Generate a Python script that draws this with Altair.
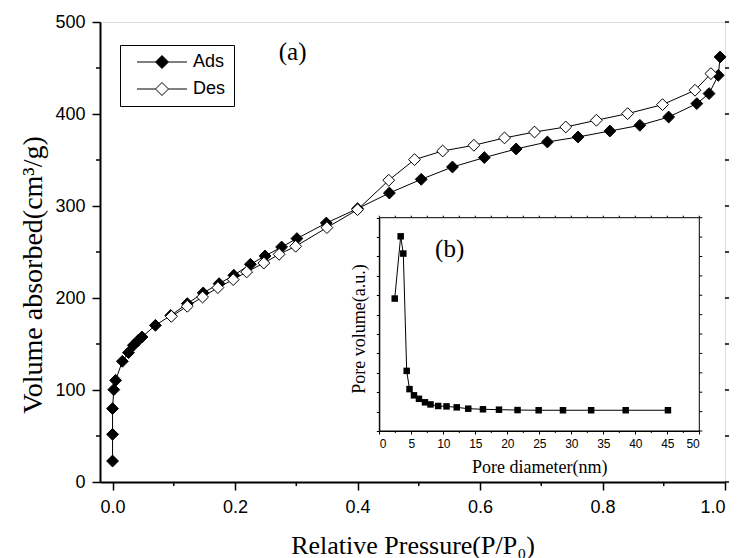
import altair as alt
import pandas as pd

# N2 sorption isotherm: relative pressure vs adsorbed volume
ads_p = [0.000, 0.000, 0.000, 0.002, 0.005, 0.016, 0.026, 0.034, 0.041, 0.048,
         0.070, 0.095, 0.122, 0.148, 0.174, 0.198, 0.225, 0.249, 0.276, 0.301,
         0.349, 0.400, 0.452, 0.504, 0.555, 0.607, 0.659, 0.710, 0.760, 0.812,
         0.861, 0.908, 0.954, 0.974, 0.989, 0.992]
ads_v = [22.8, 51.8, 79.8, 100.4, 110.5, 131.2, 140.6, 148.6, 153.3, 157.6,
         170.3, 181.0, 193.9, 205.5, 215.6, 224.7, 236.6, 245.7, 255.4, 264.6,
         281.5, 297.1, 314.1, 329.0, 342.4, 352.6, 362.0, 369.6, 375.0, 381.5,
         387.7, 396.7, 411.3, 422.2, 442.0, 462.0]
des_p = [0.096, 0.122, 0.147, 0.172, 0.197, 0.219, 0.247, 0.272, 0.299, 0.350,
         0.400, 0.451, 0.493, 0.539, 0.590, 0.640, 0.689, 0.740, 0.790, 0.841,
         0.898, 0.951, 0.977]
des_v = [180.0, 191.0, 201.0, 211.3, 220.0, 228.3, 238.0, 247.5, 256.2, 276.5,
         296.0, 328.0, 350.4, 359.8, 366.0, 374.0, 380.4, 385.9, 393.2, 400.4,
         410.2, 425.8, 443.9]

# Pore size distribution (inset)
pore_d = [2.41, 3.34, 3.75, 4.28, 4.72, 5.42, 6.2, 7.14, 8.0, 9.2, 10.5, 12.1,
          13.9, 16.2, 18.7, 21.6, 24.9, 28.7, 33.1, 38.5, 45.1]
pore_v = [6.83, 10.04, 9.15, 3.10, 2.16, 1.84, 1.66, 1.48, 1.37, 1.29, 1.27, 1.22,
          1.15, 1.12, 1.10, 1.08, 1.07, 1.07, 1.07, 1.07, 1.07]

branches = ["Ads", "Des"]

# tick positions
x_major = [0.0, 0.2, 0.4, 0.6, 0.8, 1.0]
x_minor = [0.1, 0.3, 0.5, 0.7, 0.9]
y_major = [0, 100, 200, 300, 400, 500]
y_minor = [50, 150, 250, 350, 450]
ix_major = [0, 5, 10, 15, 20, 25, 30, 35, 40, 45, 50]
ix_minor = [2.5, 7.5, 12.5, 17.5, 22.5, 27.5, 32.5, 37.5, 42.5, 47.5]
iy_ticks = list(range(12))

W, H = 625, 460
SANS = "Liberation Sans"
SERIF = "Liberation Serif"

iso = pd.DataFrame({
    "p": ads_p + des_p,
    "v": ads_v + des_v,
    "branch": [branches[0]] * len(ads_p) + [branches[1]] * len(des_p),
})
psd = pd.DataFrame({"d": pore_d, "pv": pore_v})

# ---------- main isotherm ----------
xs = alt.Scale(domain=[-0.0205, 1.0], nice=False, zero=False)
ys = alt.Scale(domain=[0, 500], nice=False)

x_axis = alt.Axis(
    orient="bottom", values=x_major, format=".1f", tickSize=8,
    labelFont=SANS, labelFontSize=18, labelColor="black", labelPadding=8.5,
    domainColor="black", domainWidth=2, tickColor="black", tickWidth=1.5,
    grid=False, title="Relative Pressure(P/P\u2080)", titleFont=SERIF,
    titleFontSize=26, titleFontWeight="normal", titleColor="black",
    titleX=W / 2, titleY=71, titleAlign="center", titleBaseline="alphabetic",
)
y_axis = alt.Axis(
    orient="left", values=y_major, tickSize=8,
    labelFont=SANS, labelFontSize=18, labelColor="black", labelPadding=7,
    domainColor="black", domainWidth=2, tickColor="black", tickWidth=1.5,
    grid=False, title="Volume absorbed(cm\u00b3/g)", titleFont=SERIF,
    titleFontSize=28, titleFontWeight="normal", titleColor="black",
    titleAngle=270, titleX=-59, titleY=252.5, titleAlign="center",
    titleBaseline="alphabetic",
)

lines = alt.Chart(iso).mark_line(color="black", strokeWidth=1).encode(
    x=alt.X("p:Q", scale=xs, axis=x_axis),
    y=alt.Y("v:Q", scale=ys, axis=y_axis),
    detail="branch:N",
    order="p:Q",
)

legend_symbol = "M-3.85,0L-1,0M-1,0L0,-1L1,0L0,1ZM1,0L3.85,0"
points = alt.Chart(iso).mark_point(
    shape="diamond", size=140, filled=True, stroke="black", strokeWidth=1, opacity=1
).encode(
    x=alt.X("p:Q", scale=xs),
    y=alt.Y("v:Q", scale=ys),
    fill=alt.Fill(
        "branch:N",
        scale=alt.Scale(domain=branches, range=["black", "white"]),
        legend=alt.Legend(
            orient="none", legendX=20, legendY=23, title=None,
            symbolType=legend_symbol, symbolSize=169, symbolStrokeColor="black",
            symbolStrokeWidth=1, symbolOffset=25, labelOffset=22,
            labelFont=SANS, labelFontSize=18, labelColor="black",
            padding=8, rowPadding=9, strokeColor="black", fillColor="white",
        ),
    ),
)

tag_a = alt.Chart(pd.DataFrame({"p": [0.294], "v": [458.7], "t": ["(a)"]})).mark_text(
    font=SERIF, fontSize=25, color="black", align="center", baseline="alphabetic"
).encode(x=alt.X("p:Q", scale=xs), y=alt.Y("v:Q", scale=ys), text="t:N")

# minor ticks on the bottom and left edges, plain ticks on the right edge
xminor_rules = alt.Chart(pd.DataFrame({"p": x_minor})).mark_rule(
    color="black", strokeWidth=1.5
).encode(x=alt.X("p:Q", scale=xs), y=alt.value(H), y2=alt.value(H + 4))
yminor_rules = alt.Chart(pd.DataFrame({"v": y_minor})).mark_rule(
    color="black", strokeWidth=1.5
).encode(y=alt.Y("v:Q", scale=ys), x=alt.value(-4), x2=alt.value(0))
yright_rules = alt.Chart(pd.DataFrame({"v": sorted(y_major + y_minor)})).mark_rule(
    color="black", strokeWidth=1.5
).encode(y=alt.Y("v:Q", scale=ys), x=alt.value(W), x2=alt.value(W + 4))

main = alt.layer(lines, xminor_rules, yminor_rules, yright_rules, points, tag_a)

# ---------- inset: pore size distribution ----------
IL, IR, IB, IT = 279.3, 599.3, 409.0, 195.7
ixs = alt.Scale(domain=[0, 50], range=[IL, IR], nice=False, zero=False)
iys = alt.Scale(domain=[0, 11], range=[IB, IT], nice=False, zero=False)

frame = alt.Chart(pd.DataFrame({"d": [0], "d2": [50], "pv": [0], "pv2": [11]})).mark_rect(
    fill="white", stroke="black", strokeWidth=1
).encode(
    x=alt.X("d:Q", scale=ixs), x2="d2:Q",
    y=alt.Y("pv:Q", scale=iys), y2="pv2:Q",
)

ix_axis = alt.Axis(
    orient="bottom", offset=IB - H, values=ix_major, format="d", tickSize=3,
    labelFont=SANS, labelFontSize=12, labelColor="black", labelPadding=4.5,
    domainColor="black", domainWidth=1, tickColor="black", tickWidth=1,
    grid=False, title="Pore diameter(nm)", titleFont=SERIF, titleFontSize=18,
    titleFontWeight="normal", titleColor="black", titleX=(IL + IR) / 2, titleY=41.5,
    titleAlign="center", titleBaseline="alphabetic", zindex=2,
)
iy_axis = alt.Axis(
    orient="left", offset=-IL, values=iy_ticks, labels=False,
    tickSize=3, domainColor="black", domainWidth=1, tickColor="black",
    tickWidth=1, grid=False, title="Pore volume(a.u.)", titleFont=SERIF,
    titleFontSize=18, titleFontWeight="normal", titleColor="black",
    titleAngle=270, titleX=-15, titleY=306.5, titleAlign="center",
    titleBaseline="alphabetic", zindex=2,
)

psd_line = alt.Chart(psd).mark_line(color="black", strokeWidth=1).encode(
    x=alt.X("d:Q", scale=ixs, axis=ix_axis),
    y=alt.Y("pv:Q", scale=iys, axis=iy_axis),
    order="d:Q",
)
psd_pts = alt.Chart(psd).mark_square(size=42, color="black", opacity=1).encode(
    x=alt.X("d:Q", scale=ixs),
    y=alt.Y("pv:Q", scale=iys),
)
tag_b = alt.Chart(pd.DataFrame({"d": [11.0], "pv": [8.96], "t": ["(b)"]})).mark_text(
    font=SERIF, fontSize=25, color="black", align="center", baseline="alphabetic"
).encode(x=alt.X("d:Q", scale=ixs), y=alt.Y("pv:Q", scale=iys), text="t:N")

# mirrored ticks of the inset frame
ibot_minor = alt.Chart(pd.DataFrame({"d": ix_minor})).mark_rule(
    color="black", strokeWidth=1
).encode(x=alt.X("d:Q", scale=ixs), y=alt.value(IB), y2=alt.value(IB + 2))
itop = alt.Chart(pd.DataFrame({"d": sorted(ix_major + ix_minor)})).mark_rule(
    color="black", strokeWidth=1
).encode(x=alt.X("d:Q", scale=ixs), y=alt.value(IT), y2=alt.value(IT - 2))
iright = alt.Chart(pd.DataFrame({"pv": iy_ticks})).mark_rule(
    color="black", strokeWidth=1
).encode(y=alt.Y("pv:Q", scale=iys), x=alt.value(IR), x2=alt.value(IR + 3))

inset = alt.layer(frame, ibot_minor, itop, iright, psd_line, psd_pts, tag_b)

chart = alt.layer(main, inset).resolve_scale(
    x="independent", y="independent"
).resolve_axis(x="independent", y="independent").properties(
    width=W, height=H,
    autosize=alt.AutoSizeParams(type="none"),
    padding={"left": 100, "top": 22, "right": 12, "bottom": 76},
).configure_view(stroke="black", strokeWidth=2).configure(background="white")

chart.save("out.html", embed_options={"renderer": "svg", "actions": False})
